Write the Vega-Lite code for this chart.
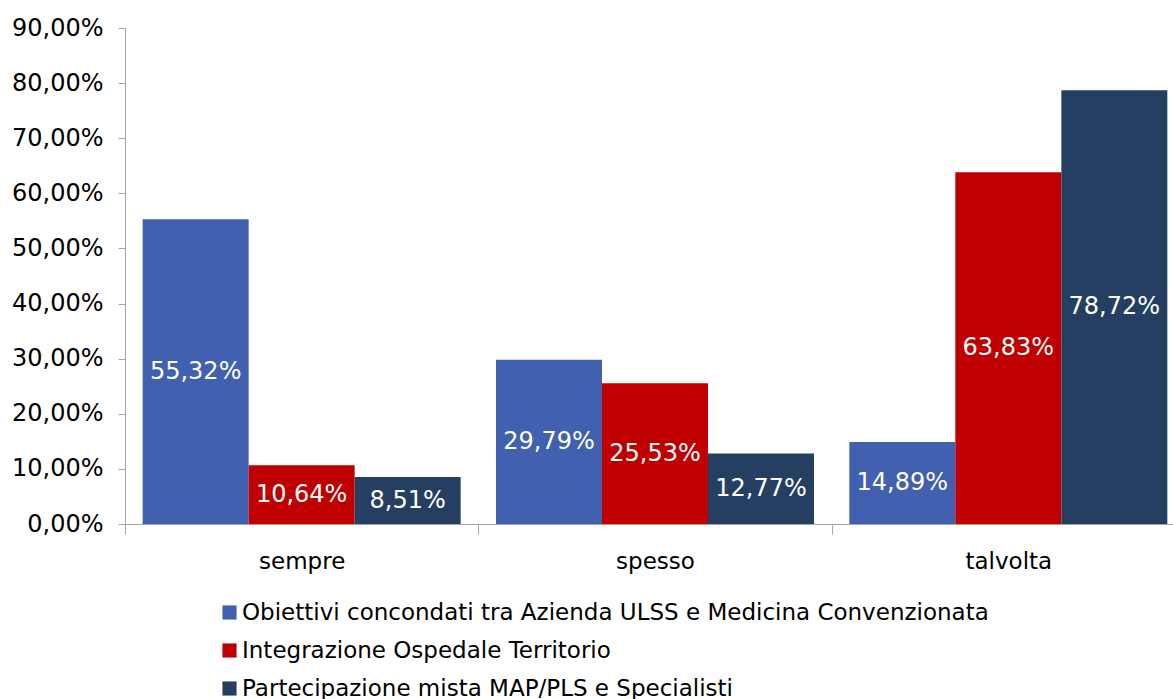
{
  "$schema": "https://vega.github.io/schema/vega-lite/v6.json",
  "width": 1060,
  "height": 496,
  "autosize": {"type": "none"},
  "padding": {"left": 125, "top": 28, "right": 0, "bottom": 175},
  "background": "white",
  "config": {
    "locale": {"number": {"decimal": ",", "thousands": ".", "grouping": [3], "currency": ["€", ""]}},
    "view": {"stroke": null},
    "font": "DejaVu Sans"
  },
  "data": {
    "values": [
      {"cat": "sempre", "serie": "Obiettivi concondati tra Azienda ULSS e Medicina Convenzionata", "value": 0.5532},
      {"cat": "sempre", "serie": "Integrazione Ospedale Territorio", "value": 0.1064},
      {"cat": "sempre", "serie": "Partecipazione mista MAP/PLS e Specialisti", "value": 0.0851},
      {"cat": "spesso", "serie": "Obiettivi concondati tra Azienda ULSS e Medicina Convenzionata", "value": 0.2979},
      {"cat": "spesso", "serie": "Integrazione Ospedale Territorio", "value": 0.2553},
      {"cat": "spesso", "serie": "Partecipazione mista MAP/PLS e Specialisti", "value": 0.1277},
      {"cat": "talvolta", "serie": "Obiettivi concondati tra Azienda ULSS e Medicina Convenzionata", "value": 0.1489},
      {"cat": "talvolta", "serie": "Integrazione Ospedale Territorio", "value": 0.6383},
      {"cat": "talvolta", "serie": "Partecipazione mista MAP/PLS e Specialisti", "value": 0.7872}
    ]
  },
  "transform": [{"calculate": "datum.value / 2", "as": "mid"}],
  "encoding": {
    "x": {
      "field": "cat", "type": "nominal", "sort": ["sempre", "spesso", "talvolta"],
      "scale": {"paddingInner": 0, "paddingOuter": 0},
      "axis": {
        "title": null, "labelAngle": 0, "tickBand": "extent", "domainColor": "#A6A6A6", "tickColor": "#A6A6A6",
        "tickSize": 10, "labelFontSize": 23, "labelColor": "#000000", "labelPadding": 16, "labelFont": "DejaVu Sans"
      }
    },
    "xOffset": {
      "field": "serie", "type": "nominal",
      "sort": ["Obiettivi concondati tra Azienda ULSS e Medicina Convenzionata", "Integrazione Ospedale Territorio", "Partecipazione mista MAP/PLS e Specialisti"],
      "scale": {"paddingInner": 0, "paddingOuter": 0.1667}
    }
  },
  "layer": [
    {
      "mark": {"type": "bar"},
      "encoding": {
        "y": {
          "field": "value", "type": "quantitative",
          "scale": {"domain": [0, 0.9]},
          "axis": {
            "title": null, "format": ".2%", "values": [0, 0.1, 0.2, 0.3, 0.4, 0.5, 0.6, 0.7, 0.8, 0.9],
            "grid": false, "domainColor": "#A6A6A6", "tickColor": "#A6A6A6", "tickSize": 7,
            "labelFontSize": 24, "labelColor": "#000000", "labelPadding": 15, "labelFont": "DejaVu Sans"
          }
        },
        "color": {
          "field": "serie", "type": "nominal",
          "sort": ["Obiettivi concondati tra Azienda ULSS e Medicina Convenzionata", "Integrazione Ospedale Territorio", "Partecipazione mista MAP/PLS e Specialisti"],
          "scale": {"range": ["#4160AF", "#C00000", "#243F61"]},
          "legend": {
            "title": null, "orient": "none", "legendX": 93, "legendY": 573, "direction": "vertical",
            "symbolType": "square", "symbolSize": 200, "symbolStrokeWidth": 0, "symbolOpacity": 1,
            "labelFontSize": 23, "labelColor": "#000000", "labelFont": "DejaVu Sans",
            "rowPadding": 14, "labelOffset": 1, "labelLimit": 1000
          }
        }
      }
    },
    {
      "mark": {"type": "text", "color": "white", "fontSize": 24, "baseline": "middle", "align": "center", "font": "DejaVu Sans"},
      "encoding": {
        "y": {"field": "mid", "type": "quantitative"},
        "text": {"field": "value", "type": "quantitative", "format": ".2%"}
      }
    }
  ]
}
